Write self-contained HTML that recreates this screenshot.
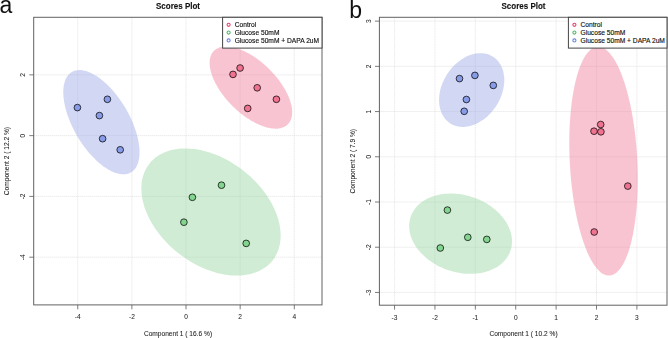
<!DOCTYPE html>
<html><head><meta charset="utf-8"><style>
html,body{margin:0;padding:0;background:#fff;width:668px;height:338px;overflow:hidden}
svg{display:block;filter:blur(0.35px)}
text{font-family:"Liberation Sans", sans-serif}
.s{fill:#111;stroke:#111;stroke-width:0.14px}
.tk{fill:#222;stroke:#222;stroke-width:0.04px}
.ax{fill:#1a1a1a;stroke:#1a1a1a;stroke-width:0.06px}
.ti{fill:#111;stroke:#111;stroke-width:0.12px}
</style></head><body>
<svg width="668" height="338" viewBox="0 0 668 338">
<text x="-0.5" y="12.6" font-size="23" fill="#111">a</text>
<text x="349.2" y="18.2" font-size="23" fill="#111">b</text>
<line x1="77.74" y1="17.3" x2="77.74" y2="304.9" stroke="#d6d6d6" stroke-width="0.7" stroke-dasharray="1,1"/>
<line x1="131.88" y1="17.3" x2="131.88" y2="304.9" stroke="#d6d6d6" stroke-width="0.7" stroke-dasharray="1,1"/>
<line x1="186.02" y1="17.3" x2="186.02" y2="304.9" stroke="#d6d6d6" stroke-width="0.7" stroke-dasharray="1,1"/>
<line x1="240.16" y1="17.3" x2="240.16" y2="304.9" stroke="#d6d6d6" stroke-width="0.7" stroke-dasharray="1,1"/>
<line x1="294.30" y1="17.3" x2="294.30" y2="304.9" stroke="#d6d6d6" stroke-width="0.7" stroke-dasharray="1,1"/>
<line x1="33.7" y1="74.86" x2="322.0" y2="74.86" stroke="#d6d6d6" stroke-width="0.7" stroke-dasharray="1,1"/>
<line x1="33.7" y1="135.64" x2="322.0" y2="135.64" stroke="#d6d6d6" stroke-width="0.7" stroke-dasharray="1,1"/>
<line x1="33.7" y1="196.42" x2="322.0" y2="196.42" stroke="#d6d6d6" stroke-width="0.7" stroke-dasharray="1,1"/>
<line x1="33.7" y1="257.20" x2="322.0" y2="257.20" stroke="#d6d6d6" stroke-width="0.7" stroke-dasharray="1,1"/>
<path d="M287.81,124.36 L286.79,125.27 L285.68,126.08 L284.47,126.78 L283.17,127.37 L281.78,127.86 L280.31,128.23 L278.75,128.49 L277.12,128.64 L275.42,128.68 L273.65,128.61 L271.82,128.42 L269.93,128.12 L267.98,127.71 L265.99,127.19 L263.96,126.56 L261.90,125.83 L259.80,124.99 L257.68,124.05 L255.54,123.00 L253.39,121.86 L251.23,120.63 L249.07,119.31 L246.91,117.89 L244.77,116.40 L242.64,114.83 L240.53,113.18 L238.46,111.46 L236.41,109.68 L234.41,107.83 L232.45,105.93 L230.54,103.98 L228.69,101.99 L226.90,99.95 L225.18,97.88 L223.52,95.79 L221.94,93.67 L220.44,91.53 L219.02,89.39 L217.69,87.23 L216.46,85.08 L215.31,82.94 L214.26,80.81 L213.32,78.70 L212.47,76.61 L211.74,74.55 L211.10,72.53 L210.58,70.55 L210.17,68.61 L209.87,66.73 L209.68,64.90 L209.61,63.14 L209.65,61.45 L209.80,59.82 L210.06,58.27 L210.44,56.80 L210.93,55.42 L211.52,54.12 L212.23,52.92 L213.04,51.81 L213.95,50.80 L214.97,49.89 L216.08,49.08 L217.29,48.38 L218.59,47.79 L219.98,47.30 L221.45,46.93 L223.01,46.67 L224.64,46.52 L226.34,46.48 L228.11,46.55 L229.94,46.74 L231.83,47.04 L233.78,47.45 L235.77,47.97 L237.80,48.60 L239.86,49.33 L241.96,50.17 L244.08,51.11 L246.22,52.16 L248.37,53.30 L250.53,54.53 L252.69,55.85 L254.85,57.27 L256.99,58.76 L259.12,60.33 L261.23,61.98 L263.30,63.70 L265.35,65.48 L267.35,67.33 L269.31,69.23 L271.22,71.18 L273.07,73.17 L274.86,75.21 L276.58,77.28 L278.24,79.37 L279.82,81.49 L281.32,83.63 L282.74,85.77 L284.07,87.93 L285.30,90.08 L286.45,92.22 L287.50,94.35 L288.44,96.46 L289.29,98.55 L290.02,100.61 L290.66,102.63 L291.18,104.61 L291.59,106.55 L291.89,108.43 L292.08,110.26 L292.15,112.02 L292.11,113.71 L291.96,115.34 L291.70,116.89 L291.32,118.36 L290.83,119.74 L290.24,121.04 L289.53,122.24 L288.72,123.35 Z" fill="#ef7c9b" fill-opacity="0.45"/>
<path d="M268.66,264.65 L266.53,266.45 L264.25,268.09 L261.83,269.59 L259.27,270.92 L256.57,272.09 L253.75,273.10 L250.82,273.94 L247.77,274.62 L244.62,275.12 L241.39,275.44 L238.06,275.60 L234.67,275.58 L231.21,275.38 L227.69,275.01 L224.13,274.47 L220.53,273.76 L216.90,272.88 L213.26,271.83 L209.62,270.61 L205.97,269.24 L202.34,267.71 L198.74,266.03 L195.17,264.20 L191.64,262.22 L188.16,260.11 L184.75,257.87 L181.41,255.50 L178.15,253.01 L174.98,250.41 L171.91,247.71 L168.94,244.90 L166.10,242.01 L163.37,239.04 L160.78,235.99 L158.32,232.87 L156.00,229.70 L153.84,226.48 L151.84,223.22 L149.99,219.93 L148.32,216.61 L146.81,213.29 L145.48,209.96 L144.34,206.64 L143.37,203.33 L142.59,200.04 L142.00,196.79 L141.59,193.58 L141.38,190.42 L141.35,187.32 L141.52,184.29 L141.88,181.33 L142.43,178.46 L143.16,175.68 L144.09,173.00 L145.19,170.43 L146.48,167.97 L147.94,165.63 L149.57,163.42 L151.38,161.34 L153.34,159.40 L155.47,157.60 L157.75,155.96 L160.17,154.46 L162.73,153.13 L165.43,151.96 L168.25,150.95 L171.18,150.11 L174.23,149.43 L177.38,148.93 L180.61,148.61 L183.94,148.45 L187.33,148.47 L190.79,148.67 L194.31,149.04 L197.87,149.58 L201.47,150.29 L205.10,151.17 L208.74,152.22 L212.38,153.44 L216.03,154.81 L219.66,156.34 L223.26,158.02 L226.83,159.85 L230.36,161.83 L233.84,163.94 L237.25,166.18 L240.59,168.55 L243.85,171.04 L247.02,173.64 L250.09,176.34 L253.06,179.15 L255.90,182.04 L258.63,185.01 L261.22,188.06 L263.68,191.18 L266.00,194.35 L268.16,197.57 L270.16,200.83 L272.01,204.12 L273.68,207.44 L275.19,210.76 L276.52,214.09 L277.66,217.41 L278.63,220.72 L279.41,224.01 L280.00,227.26 L280.41,230.47 L280.62,233.63 L280.65,236.73 L280.48,239.76 L280.12,242.72 L279.57,245.59 L278.84,248.37 L277.91,251.05 L276.81,253.62 L275.52,256.08 L274.06,258.42 L272.43,260.63 L270.62,262.71 Z" fill="#97d59f" fill-opacity="0.45"/>
<path d="M135.25,168.49 L134.29,169.68 L133.23,170.74 L132.09,171.67 L130.86,172.47 L129.56,173.12 L128.17,173.64 L126.71,174.02 L125.19,174.25 L123.59,174.34 L121.94,174.29 L120.23,174.09 L118.47,173.76 L116.66,173.28 L114.81,172.66 L112.93,171.90 L111.01,171.01 L109.06,169.98 L107.10,168.83 L105.12,167.54 L103.12,166.13 L101.13,164.60 L99.13,162.96 L97.14,161.20 L95.17,159.33 L93.21,157.37 L91.27,155.30 L89.36,153.15 L87.48,150.91 L85.64,148.59 L83.85,146.20 L82.10,143.75 L80.40,141.23 L78.77,138.67 L77.19,136.05 L75.68,133.40 L74.24,130.72 L72.88,128.02 L71.59,125.30 L70.39,122.57 L69.27,119.84 L68.24,117.12 L67.30,114.41 L66.45,111.72 L65.70,109.06 L65.05,106.44 L64.50,103.86 L64.04,101.33 L63.69,98.86 L63.45,96.45 L63.30,94.11 L63.27,91.85 L63.33,89.68 L63.50,87.59 L63.78,85.59 L64.16,83.70 L64.64,81.91 L65.22,80.24 L65.90,78.67 L66.67,77.23 L67.55,75.91 L68.51,74.72 L69.57,73.66 L70.71,72.73 L71.94,71.93 L73.24,71.28 L74.63,70.76 L76.09,70.38 L77.61,70.15 L79.21,70.06 L80.86,70.11 L82.57,70.31 L84.33,70.64 L86.14,71.12 L87.99,71.74 L89.87,72.50 L91.79,73.39 L93.74,74.42 L95.70,75.57 L97.68,76.86 L99.68,78.27 L101.67,79.80 L103.67,81.44 L105.66,83.20 L107.63,85.07 L109.59,87.03 L111.53,89.10 L113.44,91.25 L115.32,93.49 L117.16,95.81 L118.95,98.20 L120.70,100.65 L122.40,103.17 L124.03,105.73 L125.61,108.35 L127.12,111.00 L128.56,113.68 L129.92,116.38 L131.21,119.10 L132.41,121.83 L133.53,124.56 L134.56,127.28 L135.50,129.99 L136.35,132.68 L137.10,135.34 L137.75,137.96 L138.30,140.54 L138.76,143.07 L139.11,145.54 L139.35,147.95 L139.50,150.29 L139.53,152.55 L139.47,154.72 L139.30,156.81 L139.02,158.81 L138.64,160.70 L138.16,162.49 L137.58,164.16 L136.90,165.73 L136.13,167.17 Z" fill="#9ba8e7" fill-opacity="0.45"/>
<circle cx="240.1" cy="68.0" r="3.35" fill="#ef7391" stroke="#000" stroke-opacity="0.72" stroke-width="1.0"/>
<circle cx="233.0" cy="74.4" r="3.35" fill="#ef7391" stroke="#000" stroke-opacity="0.72" stroke-width="1.0"/>
<circle cx="257.2" cy="87.8" r="3.35" fill="#ef7391" stroke="#000" stroke-opacity="0.72" stroke-width="1.0"/>
<circle cx="276.4" cy="99.3" r="3.35" fill="#ef7391" stroke="#000" stroke-opacity="0.72" stroke-width="1.0"/>
<circle cx="247.7" cy="108.4" r="3.35" fill="#ef7391" stroke="#000" stroke-opacity="0.72" stroke-width="1.0"/>
<circle cx="221.5" cy="185.2" r="3.35" fill="#82d48f" stroke="#000" stroke-opacity="0.72" stroke-width="1.0"/>
<circle cx="192.4" cy="197.3" r="3.35" fill="#82d48f" stroke="#000" stroke-opacity="0.72" stroke-width="1.0"/>
<circle cx="183.9" cy="222.2" r="3.35" fill="#82d48f" stroke="#000" stroke-opacity="0.72" stroke-width="1.0"/>
<circle cx="246.2" cy="243.4" r="3.35" fill="#82d48f" stroke="#000" stroke-opacity="0.72" stroke-width="1.0"/>
<circle cx="77.4" cy="107.6" r="3.35" fill="#889be6" stroke="#000" stroke-opacity="0.72" stroke-width="1.0"/>
<circle cx="107.4" cy="99.3" r="3.35" fill="#889be6" stroke="#000" stroke-opacity="0.72" stroke-width="1.0"/>
<circle cx="99.4" cy="115.6" r="3.35" fill="#889be6" stroke="#000" stroke-opacity="0.72" stroke-width="1.0"/>
<circle cx="102.6" cy="138.7" r="3.35" fill="#889be6" stroke="#000" stroke-opacity="0.72" stroke-width="1.0"/>
<circle cx="120.2" cy="149.8" r="3.35" fill="#889be6" stroke="#000" stroke-opacity="0.72" stroke-width="1.0"/>
<rect x="33.7" y="17.3" width="288.3" height="287.59999999999997" fill="none" stroke="#626262" stroke-width="1"/>
<line x1="77.74" y1="304.9" x2="77.74" y2="309.29999999999995" stroke="#5a5a5a" stroke-width="0.8"/>
<text x="77.74" y="319.4" font-size="6.6" text-anchor="middle" class="tk">-4</text>
<line x1="131.88" y1="304.9" x2="131.88" y2="309.29999999999995" stroke="#5a5a5a" stroke-width="0.8"/>
<text x="131.88" y="319.4" font-size="6.6" text-anchor="middle" class="tk">-2</text>
<line x1="186.02" y1="304.9" x2="186.02" y2="309.29999999999995" stroke="#5a5a5a" stroke-width="0.8"/>
<text x="186.02" y="319.4" font-size="6.6" text-anchor="middle" class="tk">0</text>
<line x1="240.16" y1="304.9" x2="240.16" y2="309.29999999999995" stroke="#5a5a5a" stroke-width="0.8"/>
<text x="240.16" y="319.4" font-size="6.6" text-anchor="middle" class="tk">2</text>
<line x1="294.30" y1="304.9" x2="294.30" y2="309.29999999999995" stroke="#5a5a5a" stroke-width="0.8"/>
<text x="294.30" y="319.4" font-size="6.6" text-anchor="middle" class="tk">4</text>
<line x1="29.300000000000004" y1="74.86" x2="33.7" y2="74.86" stroke="#5a5a5a" stroke-width="0.8"/>
<text transform="translate(25.000000000000004,74.86) rotate(-90)" font-size="6.6" text-anchor="middle" class="tk">2</text>
<line x1="29.300000000000004" y1="135.64" x2="33.7" y2="135.64" stroke="#5a5a5a" stroke-width="0.8"/>
<text transform="translate(25.000000000000004,135.64) rotate(-90)" font-size="6.6" text-anchor="middle" class="tk">0</text>
<line x1="29.300000000000004" y1="196.42" x2="33.7" y2="196.42" stroke="#5a5a5a" stroke-width="0.8"/>
<text transform="translate(25.000000000000004,196.42) rotate(-90)" font-size="6.6" text-anchor="middle" class="tk">-2</text>
<line x1="29.300000000000004" y1="257.20" x2="33.7" y2="257.20" stroke="#5a5a5a" stroke-width="0.8"/>
<text transform="translate(25.000000000000004,257.20) rotate(-90)" font-size="6.6" text-anchor="middle" class="tk">-4</text>
<text x="178.0" y="8.7" font-size="8.3" font-weight="bold" text-anchor="middle" textLength="44" lengthAdjust="spacingAndGlyphs" class="ti">Scores Plot</text>
<text x="178.0" y="335.8" font-size="6.6" text-anchor="middle" class="ax">Component 1 ( 16.6 %)</text>
<text transform="translate(9.3,161.1) rotate(-90)" font-size="6.6" text-anchor="middle" class="ax">Component 2 ( 12.2 %)</text>
<rect x="222.6" y="17.3" width="99.4" height="30.8" fill="#fff" stroke="#444" stroke-width="1"/>
<circle cx="228.6" cy="24.8" r="1.55" fill="none" stroke="#e2456f" stroke-width="1.1"/>
<text x="234.7" y="27.1" font-size="6.66" class="s">Control</text>
<circle cx="228.6" cy="32.6" r="1.55" fill="none" stroke="#58b868" stroke-width="1.1"/>
<text x="234.7" y="34.9" font-size="6.66" class="s">Glucose 50mM</text>
<circle cx="228.6" cy="40.4" r="1.55" fill="none" stroke="#6f84e2" stroke-width="1.1"/>
<text x="234.7" y="42.699999999999996" font-size="6.66" class="s">Glucose 50mM + DAPA 2uM</text>
<line x1="394.56" y1="17.3" x2="394.56" y2="305.2" stroke="#d6d6d6" stroke-width="0.7" stroke-dasharray="1,1"/>
<line x1="434.95" y1="17.3" x2="434.95" y2="305.2" stroke="#d6d6d6" stroke-width="0.7" stroke-dasharray="1,1"/>
<line x1="475.34" y1="17.3" x2="475.34" y2="305.2" stroke="#d6d6d6" stroke-width="0.7" stroke-dasharray="1,1"/>
<line x1="515.73" y1="17.3" x2="515.73" y2="305.2" stroke="#d6d6d6" stroke-width="0.7" stroke-dasharray="1,1"/>
<line x1="556.12" y1="17.3" x2="556.12" y2="305.2" stroke="#d6d6d6" stroke-width="0.7" stroke-dasharray="1,1"/>
<line x1="596.51" y1="17.3" x2="596.51" y2="305.2" stroke="#d6d6d6" stroke-width="0.7" stroke-dasharray="1,1"/>
<line x1="636.90" y1="17.3" x2="636.90" y2="305.2" stroke="#d6d6d6" stroke-width="0.7" stroke-dasharray="1,1"/>
<line x1="379.4" y1="21.13" x2="667.0" y2="21.13" stroke="#d6d6d6" stroke-width="0.7" stroke-dasharray="1,1"/>
<line x1="379.4" y1="66.35" x2="667.0" y2="66.35" stroke="#d6d6d6" stroke-width="0.7" stroke-dasharray="1,1"/>
<line x1="379.4" y1="111.57" x2="667.0" y2="111.57" stroke="#d6d6d6" stroke-width="0.7" stroke-dasharray="1,1"/>
<line x1="379.4" y1="156.79" x2="667.0" y2="156.79" stroke="#d6d6d6" stroke-width="0.7" stroke-dasharray="1,1"/>
<line x1="379.4" y1="202.01" x2="667.0" y2="202.01" stroke="#d6d6d6" stroke-width="0.7" stroke-dasharray="1,1"/>
<line x1="379.4" y1="247.23" x2="667.0" y2="247.23" stroke="#d6d6d6" stroke-width="0.7" stroke-dasharray="1,1"/>
<line x1="379.4" y1="292.45" x2="667.0" y2="292.45" stroke="#d6d6d6" stroke-width="0.7" stroke-dasharray="1,1"/>
<path d="M629.55,248.17 L628.35,251.94 L627.08,255.46 L625.75,258.72 L624.36,261.71 L622.91,264.43 L621.41,266.87 L619.86,269.01 L618.26,270.86 L616.63,272.41 L614.95,273.65 L613.25,274.59 L611.52,275.21 L609.77,275.52 L608.00,275.52 L606.22,275.21 L604.43,274.58 L602.64,273.64 L600.85,272.39 L599.07,270.84 L597.30,268.99 L595.54,266.84 L593.81,264.40 L592.11,261.67 L590.44,258.68 L588.80,255.41 L587.20,251.89 L585.65,248.12 L584.15,244.11 L582.70,239.87 L581.30,235.41 L579.97,230.76 L578.71,225.91 L577.51,220.88 L576.38,215.69 L575.32,210.35 L574.35,204.88 L573.45,199.28 L572.64,193.58 L571.91,187.80 L571.27,181.94 L570.71,176.02 L570.25,170.06 L569.87,164.08 L569.59,158.08 L569.41,152.10 L569.31,146.14 L569.31,140.22 L569.40,134.36 L569.59,128.58 L569.87,122.88 L570.24,117.29 L570.70,111.81 L571.26,106.48 L571.90,101.29 L572.63,96.27 L573.44,91.42 L574.34,86.76 L575.31,82.31 L576.36,78.08 L577.49,74.07 L578.69,70.30 L579.96,66.78 L581.29,63.52 L582.68,60.53 L584.13,57.81 L585.63,55.37 L587.18,53.23 L588.78,51.38 L590.41,49.83 L592.09,48.59 L593.79,47.65 L595.52,47.03 L597.27,46.72 L599.04,46.72 L600.82,47.03 L602.61,47.66 L604.40,48.60 L606.19,49.85 L607.97,51.40 L609.74,53.25 L611.50,55.40 L613.23,57.84 L614.93,60.57 L616.60,63.56 L618.24,66.83 L619.84,70.35 L621.39,74.12 L622.89,78.13 L624.34,82.37 L625.74,86.83 L627.07,91.48 L628.33,96.33 L629.53,101.36 L630.66,106.55 L631.72,111.89 L632.69,117.36 L633.59,122.96 L634.40,128.66 L635.13,134.44 L635.77,140.30 L636.33,146.22 L636.79,152.18 L637.17,158.16 L637.45,164.16 L637.63,170.14 L637.73,176.10 L637.73,182.02 L637.64,187.88 L637.45,193.66 L637.17,199.36 L636.80,204.95 L636.34,210.43 L635.78,215.76 L635.14,220.95 L634.41,225.97 L633.60,230.82 L632.70,235.48 L631.73,239.93 L630.68,244.16 Z" fill="#ef7c9b" fill-opacity="0.45"/>
<path d="M500.25,264.67 L498.48,265.96 L496.61,267.17 L494.64,268.28 L492.58,269.30 L490.43,270.22 L488.19,271.04 L485.89,271.76 L483.51,272.38 L481.07,272.89 L478.57,273.29 L476.02,273.58 L473.43,273.77 L470.81,273.84 L468.16,273.81 L465.49,273.66 L462.80,273.40 L460.11,273.04 L457.42,272.57 L454.73,271.99 L452.07,271.31 L449.42,270.52 L446.81,269.63 L444.24,268.65 L441.71,267.56 L439.23,266.39 L436.81,265.13 L434.45,263.78 L432.17,262.34 L429.97,260.83 L427.84,259.25 L425.81,257.59 L423.88,255.87 L422.04,254.09 L420.31,252.25 L418.69,250.36 L417.19,248.43 L415.80,246.45 L414.54,244.44 L413.40,242.40 L412.39,240.34 L411.52,238.26 L410.77,236.17 L410.17,234.07 L409.70,231.96 L409.38,229.87 L409.19,227.78 L409.14,225.71 L409.24,223.66 L409.47,221.64 L409.85,219.66 L410.36,217.71 L411.02,215.80 L411.81,213.95 L412.73,212.14 L413.78,210.40 L414.96,208.72 L416.27,207.11 L417.70,205.57 L419.24,204.11 L420.90,202.73 L422.67,201.44 L424.54,200.23 L426.51,199.12 L428.57,198.10 L430.72,197.18 L432.96,196.36 L435.26,195.64 L437.64,195.02 L440.08,194.51 L442.58,194.11 L445.13,193.82 L447.72,193.63 L450.34,193.56 L452.99,193.59 L455.66,193.74 L458.35,194.00 L461.04,194.36 L463.73,194.83 L466.42,195.41 L469.08,196.09 L471.73,196.88 L474.34,197.77 L476.91,198.75 L479.44,199.84 L481.92,201.01 L484.34,202.27 L486.70,203.62 L488.98,205.06 L491.18,206.57 L493.31,208.15 L495.34,209.81 L497.27,211.53 L499.11,213.31 L500.84,215.15 L502.46,217.04 L503.96,218.97 L505.35,220.95 L506.61,222.96 L507.75,225.00 L508.76,227.06 L509.63,229.14 L510.38,231.23 L510.98,233.33 L511.45,235.44 L511.77,237.53 L511.96,239.62 L512.01,241.69 L511.91,243.74 L511.68,245.76 L511.30,247.74 L510.79,249.69 L510.13,251.60 L509.34,253.45 L508.42,255.26 L507.37,257.00 L506.19,258.68 L504.88,260.29 L503.45,261.83 L501.91,263.29 Z" fill="#97d59f" fill-opacity="0.45"/>
<path d="M491.36,112.32 L489.97,113.83 L488.53,115.27 L487.05,116.64 L485.52,117.94 L483.96,119.17 L482.36,120.31 L480.73,121.37 L479.08,122.35 L477.41,123.23 L475.72,124.03 L474.02,124.73 L472.32,125.34 L470.61,125.85 L468.91,126.26 L467.21,126.58 L465.53,126.79 L463.86,126.90 L462.21,126.92 L460.59,126.83 L459.00,126.64 L457.45,126.35 L455.93,125.96 L454.46,125.47 L453.03,124.88 L451.65,124.20 L450.33,123.42 L449.07,122.56 L447.87,121.60 L446.74,120.56 L445.67,119.44 L444.67,118.23 L443.75,116.95 L442.91,115.59 L442.14,114.16 L441.46,112.67 L440.86,111.11 L440.34,109.50 L439.91,107.83 L439.56,106.12 L439.30,104.36 L439.14,102.56 L439.06,100.73 L439.07,98.86 L439.17,96.98 L439.35,95.07 L439.63,93.15 L440.00,91.23 L440.45,89.29 L440.99,87.37 L441.61,85.44 L442.31,83.54 L443.09,81.64 L443.96,79.78 L444.90,77.94 L445.91,76.13 L446.99,74.36 L448.14,72.63 L449.35,70.96 L450.63,69.33 L451.96,67.76 L453.35,66.25 L454.79,64.81 L456.27,63.44 L457.80,62.14 L459.36,60.91 L460.96,59.77 L462.59,58.71 L464.24,57.73 L465.91,56.85 L467.60,56.05 L469.30,55.35 L471.00,54.74 L472.71,54.23 L474.41,53.82 L476.11,53.50 L477.79,53.29 L479.46,53.18 L481.11,53.16 L482.73,53.25 L484.32,53.44 L485.87,53.73 L487.39,54.12 L488.86,54.61 L490.29,55.20 L491.67,55.88 L492.99,56.66 L494.25,57.52 L495.45,58.48 L496.58,59.52 L497.65,60.64 L498.65,61.85 L499.57,63.13 L500.41,64.49 L501.18,65.92 L501.86,67.41 L502.46,68.97 L502.98,70.58 L503.41,72.25 L503.76,73.96 L504.02,75.72 L504.18,77.52 L504.26,79.35 L504.25,81.22 L504.15,83.10 L503.97,85.01 L503.69,86.93 L503.32,88.85 L502.87,90.79 L502.33,92.71 L501.71,94.64 L501.01,96.54 L500.23,98.44 L499.36,100.30 L498.42,102.14 L497.41,103.95 L496.33,105.72 L495.18,107.45 L493.97,109.12 L492.69,110.75 Z" fill="#9ba8e7" fill-opacity="0.45"/>
<circle cx="600.7" cy="124.5" r="3.35" fill="#ef7391" stroke="#000" stroke-opacity="0.72" stroke-width="1.0"/>
<circle cx="594.0" cy="131.2" r="3.35" fill="#ef7391" stroke="#000" stroke-opacity="0.72" stroke-width="1.0"/>
<circle cx="600.9" cy="131.8" r="3.35" fill="#ef7391" stroke="#000" stroke-opacity="0.72" stroke-width="1.0"/>
<circle cx="627.8" cy="186.1" r="3.35" fill="#ef7391" stroke="#000" stroke-opacity="0.72" stroke-width="1.0"/>
<circle cx="594.2" cy="232.0" r="3.35" fill="#ef7391" stroke="#000" stroke-opacity="0.72" stroke-width="1.0"/>
<circle cx="447.4" cy="210.1" r="3.35" fill="#82d48f" stroke="#000" stroke-opacity="0.72" stroke-width="1.0"/>
<circle cx="467.8" cy="237.3" r="3.35" fill="#82d48f" stroke="#000" stroke-opacity="0.72" stroke-width="1.0"/>
<circle cx="486.8" cy="239.4" r="3.35" fill="#82d48f" stroke="#000" stroke-opacity="0.72" stroke-width="1.0"/>
<circle cx="440.3" cy="248.0" r="3.35" fill="#82d48f" stroke="#000" stroke-opacity="0.72" stroke-width="1.0"/>
<circle cx="459.5" cy="78.6" r="3.35" fill="#889be6" stroke="#000" stroke-opacity="0.72" stroke-width="1.0"/>
<circle cx="474.9" cy="75.4" r="3.35" fill="#889be6" stroke="#000" stroke-opacity="0.72" stroke-width="1.0"/>
<circle cx="493.3" cy="85.4" r="3.35" fill="#889be6" stroke="#000" stroke-opacity="0.72" stroke-width="1.0"/>
<circle cx="466.4" cy="99.5" r="3.35" fill="#889be6" stroke="#000" stroke-opacity="0.72" stroke-width="1.0"/>
<circle cx="464.2" cy="111.3" r="3.35" fill="#889be6" stroke="#000" stroke-opacity="0.72" stroke-width="1.0"/>
<rect x="379.4" y="17.3" width="287.6" height="287.9" fill="none" stroke="#626262" stroke-width="1"/>
<line x1="394.56" y1="305.2" x2="394.56" y2="309.59999999999997" stroke="#5a5a5a" stroke-width="0.8"/>
<text x="394.56" y="319.7" font-size="6.6" text-anchor="middle" class="tk">-3</text>
<line x1="434.95" y1="305.2" x2="434.95" y2="309.59999999999997" stroke="#5a5a5a" stroke-width="0.8"/>
<text x="434.95" y="319.7" font-size="6.6" text-anchor="middle" class="tk">-2</text>
<line x1="475.34" y1="305.2" x2="475.34" y2="309.59999999999997" stroke="#5a5a5a" stroke-width="0.8"/>
<text x="475.34" y="319.7" font-size="6.6" text-anchor="middle" class="tk">-1</text>
<line x1="515.73" y1="305.2" x2="515.73" y2="309.59999999999997" stroke="#5a5a5a" stroke-width="0.8"/>
<text x="515.73" y="319.7" font-size="6.6" text-anchor="middle" class="tk">0</text>
<line x1="556.12" y1="305.2" x2="556.12" y2="309.59999999999997" stroke="#5a5a5a" stroke-width="0.8"/>
<text x="556.12" y="319.7" font-size="6.6" text-anchor="middle" class="tk">1</text>
<line x1="596.51" y1="305.2" x2="596.51" y2="309.59999999999997" stroke="#5a5a5a" stroke-width="0.8"/>
<text x="596.51" y="319.7" font-size="6.6" text-anchor="middle" class="tk">2</text>
<line x1="636.90" y1="305.2" x2="636.90" y2="309.59999999999997" stroke="#5a5a5a" stroke-width="0.8"/>
<text x="636.90" y="319.7" font-size="6.6" text-anchor="middle" class="tk">3</text>
<line x1="375.0" y1="21.13" x2="379.4" y2="21.13" stroke="#5a5a5a" stroke-width="0.8"/>
<text transform="translate(370.7,21.13) rotate(-90)" font-size="6.6" text-anchor="middle" class="tk">3</text>
<line x1="375.0" y1="66.35" x2="379.4" y2="66.35" stroke="#5a5a5a" stroke-width="0.8"/>
<text transform="translate(370.7,66.35) rotate(-90)" font-size="6.6" text-anchor="middle" class="tk">2</text>
<line x1="375.0" y1="111.57" x2="379.4" y2="111.57" stroke="#5a5a5a" stroke-width="0.8"/>
<text transform="translate(370.7,111.57) rotate(-90)" font-size="6.6" text-anchor="middle" class="tk">1</text>
<line x1="375.0" y1="156.79" x2="379.4" y2="156.79" stroke="#5a5a5a" stroke-width="0.8"/>
<text transform="translate(370.7,156.79) rotate(-90)" font-size="6.6" text-anchor="middle" class="tk">0</text>
<line x1="375.0" y1="202.01" x2="379.4" y2="202.01" stroke="#5a5a5a" stroke-width="0.8"/>
<text transform="translate(370.7,202.01) rotate(-90)" font-size="6.6" text-anchor="middle" class="tk">-1</text>
<line x1="375.0" y1="247.23" x2="379.4" y2="247.23" stroke="#5a5a5a" stroke-width="0.8"/>
<text transform="translate(370.7,247.23) rotate(-90)" font-size="6.6" text-anchor="middle" class="tk">-2</text>
<line x1="375.0" y1="292.45" x2="379.4" y2="292.45" stroke="#5a5a5a" stroke-width="0.8"/>
<text transform="translate(370.7,292.45) rotate(-90)" font-size="6.6" text-anchor="middle" class="tk">-3</text>
<text x="523.5" y="8.7" font-size="8.3" font-weight="bold" text-anchor="middle" textLength="44" lengthAdjust="spacingAndGlyphs" class="ti">Scores Plot</text>
<text x="523.5" y="335.8" font-size="6.6" text-anchor="middle" class="ax">Component 1 ( 10.2 %)</text>
<text transform="translate(354.8,161.25) rotate(-90)" font-size="6.6" text-anchor="middle" class="ax">Component 2 ( 7.9 %)</text>
<rect x="568.4" y="17.3" width="98.60000000000002" height="30.8" fill="#fff" stroke="#444" stroke-width="1"/>
<circle cx="574.4" cy="24.8" r="1.55" fill="none" stroke="#e2456f" stroke-width="1.1"/>
<text x="580.5" y="27.1" font-size="6.66" class="s">Control</text>
<circle cx="574.4" cy="32.6" r="1.55" fill="none" stroke="#58b868" stroke-width="1.1"/>
<text x="580.5" y="34.9" font-size="6.66" class="s">Glucose 50mM</text>
<circle cx="574.4" cy="40.4" r="1.55" fill="none" stroke="#6f84e2" stroke-width="1.1"/>
<text x="580.5" y="42.699999999999996" font-size="6.66" class="s">Glucose 50mM + DAPA 2uM</text>
</svg>
</body></html>
